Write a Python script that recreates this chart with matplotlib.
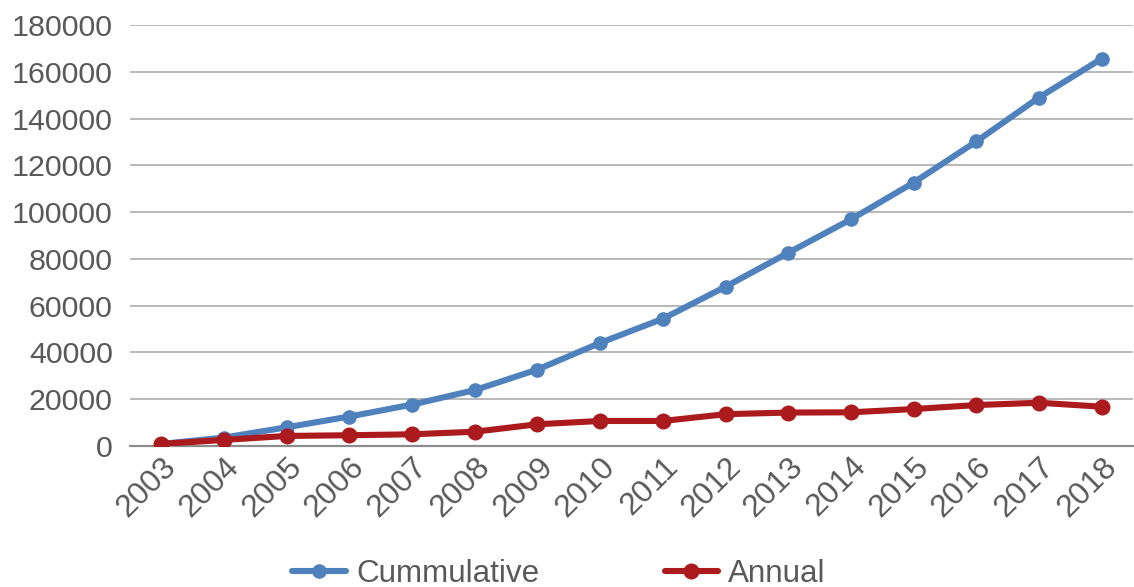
import matplotlib
matplotlib.use("Agg")
import matplotlib.pyplot as plt
from matplotlib.transforms import ScaledTranslation

years = [str(y) for y in range(2003, 2019)]
cumulative = [900, 3600, 8000, 12600, 17700, 23900, 32700, 44100, 54400,
              68100, 82600, 96900, 112600, 130200, 149000, 165600]
annual = [900, 2600, 4300, 4600, 5000, 6100, 9300, 10700, 10700,
          13600, 14300, 14400, 15800, 17500, 18500, 16800]
yticks = list(range(0, 180001, 20000))

plt.rcParams['font.family'] = ['Liberation Sans', 'DejaVu Sans']
txt = '#595959'

fig = plt.figure(figsize=(11.34, 5.87), dpi=100)
ax = fig.add_axes([130/1134, 1-446/587, (1133-130)/1134, (446-25)/587])

x = list(range(len(years)))
l1, = ax.plot(x, cumulative, color='#4F81BD', lw=4.4, marker='o', ms=9.5,
              solid_capstyle='round', label='Cummulative', zorder=3)
l2, = ax.plot(x, annual, color='#AB1A1C', lw=4.4, marker='o', ms=10.5,
              solid_capstyle='round', label='Annual', zorder=4)

ax.set_xlim(-0.5, len(years) - 0.5)
ax.set_ylim(0, 180000)
ax.set_yticks(yticks)
ax.set_yticklabels([str(v) for v in yticks])
ax.set_xticks(x)
ax.set_xticklabels(years, rotation=45, ha='right', va='top', rotation_mode='anchor')
for lab in ax.get_xticklabels():
    lab.set_fontsize(22.8)
    lab.set_transform(lab.get_transform() + ScaledTranslation(-0.03, -0.13, fig.dpi_scale_trans))

ax.tick_params(axis='both', length=0, labelcolor=txt)
ax.tick_params(axis='y', pad=12.5, labelsize=21.9)
ax.tick_params(axis='x', pad=4)
ax.grid(axis='y', color='#A6A6A6', lw=1.1)
ax.set_axisbelow(True)
for s in ['top', 'right', 'left']:
    ax.spines[s].set_visible(False)
ax.spines['bottom'].set_color('#8C8C8C')
ax.spines['bottom'].set_linewidth(1.6)

leg = fig.legend(handles=[l1, l2], loc='center', bbox_to_anchor=(559/1134, 1-574/587),
                 ncol=2, frameon=False, fontsize=22.6, handlelength=1.7,
                 handletextpad=0.33, columnspacing=4.0, borderaxespad=0)
for t in leg.get_texts():
    t.set_color(txt)

fig.savefig('out.png', dpi=100)
